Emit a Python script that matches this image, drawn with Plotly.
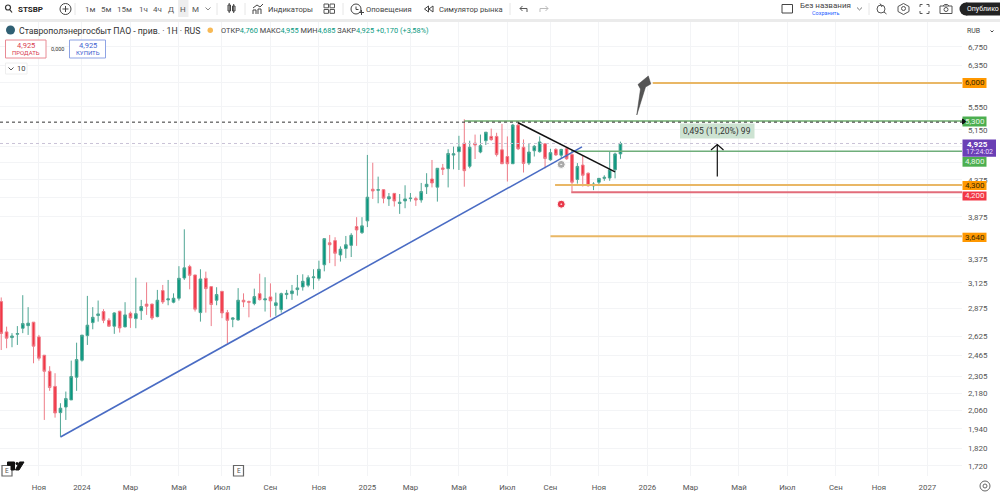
import numpy as np
import pandas as pd
import plotly.graph_objects as go

# недельные свечи STSBP
dates = pd.date_range("2023-09-18", periods=116, freq="7D")

opens = [2.94, 2.663, 2.614, 2.643, 2.695, 2.718, 2.749, 2.62, 2.468, 2.342, 2.229, 2.046, 2.084, 2.133, 2.297, 2.428,
         2.631, 2.745, 2.809, 2.846, 2.766, 2.713, 2.849, 2.707, 2.83, 2.781, 2.854, 2.916, 2.916, 2.799, 3.047, 2.956,
         2.934, 2.972, 3.175, 3.296, 3.207, 2.836, 3.172, 3.087, 2.953, 3.04, 2.836, 2.775, 2.769, 2.953, 2.94, 2.921,
         3.017, 2.956, 2.985, 2.902, 2.864, 3.008, 3.017, 3.057, 3.084, 3.101, 3.178, 3.172, 3.315, 3.562, 3.587, 3.423,
         3.495, 3.532, 3.755, 3.682, 3.826, 4.242, 4.228, 4.236, 4.11, 4.185, 4.049, 4.083, 4.114, 4.114, 4.096, 4.277,
         4.386, 4.271, 4.547, 4.537, 4.742, 4.795, 4.93, 4.572, 4.93, 4.79, 4.97, 5.04, 5.04, 4.825, 4.72, 4.61,
         5.23, 4.865, 4.62, 4.81, 4.795, 4.92, 4.67, 4.83, 4.74, 4.84, 4.75, 4.38, 4.59, 4.47, 4.29, 4.34,
         4.395, 4.40, 4.52, 4.76]
highs = [2.98, 2.709, 2.652, 2.714, 3.002, 2.887, 2.749, 2.637, 2.468, 2.381, 2.327, 2.11, 2.192, 2.425, 2.571, 2.635,
         2.995, 2.887, 2.95, 2.868, 2.785, 2.839, 2.852, 2.934, 2.846, 3.178, 2.956, 3.13, 2.92, 3.054, 3.104, 3.155,
         3.02, 3.30, 3.722, 3.315, 3.207, 3.267, 3.242, 3.087, 3.081, 3.04, 2.861, 2.793, 3.072, 3.02, 2.95, 3.067,
         3.22, 3.183, 3.12, 3.027, 3.027, 3.054, 3.104, 3.207, 3.214, 3.203, 3.267, 3.36, 3.61, 3.654, 3.627, 3.52,
         3.642, 3.675, 3.872, 3.872, 4.744, 4.625, 4.42, 4.242, 4.19, 4.19, 4.176, 4.297, 4.19, 4.14, 4.33, 4.47,
         4.667, 4.542, 4.607, 4.833, 4.875, 5.05, 5.33, 4.97, 5.07, 5.07, 5.11, 5.17, 5.10, 5.25, 5.04, 5.25,
         5.27, 4.99, 4.92, 4.90, 5.04, 4.93, 4.84, 4.85, 4.84, 4.85, 4.77, 4.62, 4.73, 4.48, 4.34, 4.40,
         4.44, 4.795, 4.78, 4.955]
lows = [2.51, 2.525, 2.533, 2.552, 2.652, 2.637, 2.404, 2.425, 1.998, 2.197, 2.013, 1.892, 1.998, 2.133, 2.197, 2.417,
        2.552, 2.686, 2.754, 2.74, 2.709, 2.646, 2.657, 2.704, 2.698, 2.695, 2.769, 2.815, 2.769, 2.793, 2.918, 2.905,
        2.924, 2.95, 3.155, 3.06, 2.846, 2.754, 2.836, 2.714, 2.905, 2.785, 2.566, 2.704, 2.763, 2.887, 2.793, 2.905,
        2.95, 2.846, 2.793, 2.806, 2.836, 2.963, 2.956, 2.998, 3.047, 3.081, 3.06, 3.148, 3.245, 3.333, 3.30, 3.35,
        3.387, 3.40, 3.526, 3.666, 3.749, 4.11, 4.052, 4.052, 4.017, 4.009, 3.914, 3.987, 4.074, 4.017, 4.06, 4.176,
        4.267, 4.074, 4.443, 4.267, 4.527, 4.517, 4.277, 4.542, 4.682, 4.77, 4.90, 4.97, 4.72, 4.607, 4.35, 4.61,
        4.82, 4.48, 4.59, 4.72, 4.78, 4.54, 4.655, 4.73, 4.685, 4.67, 4.21, 4.32, 4.28, 4.28, 4.23, 4.29,
        4.36, 4.36, 4.395, 4.685]
closes = [2.65, 2.609, 2.628, 2.648, 2.736, 2.74, 2.542, 2.444, 2.342, 2.221, 2.044, 2.076, 2.142, 2.302, 2.433, 2.635,
          2.722, 2.793, 2.824, 2.766, 2.713, 2.833, 2.698, 2.815, 2.787, 2.826, 2.893, 2.896, 2.787, 2.953, 2.937, 2.966,
          2.972, 3.172, 3.282, 3.203, 2.868, 3.165, 3.067, 2.912, 3.008, 2.833, 2.766, 2.787, 2.953, 2.937, 2.934, 2.988,
          2.959, 2.966, 2.947, 2.928, 3.017, 3.02, 3.044, 3.074, 3.141, 3.178, 3.186, 3.267, 3.61, 3.539, 3.442, 3.488,
          3.539, 3.65, 3.714, 3.764, 4.133, 4.218, 4.236, 4.12, 4.14, 4.083, 4.066, 4.11, 4.12, 4.096, 4.21, 4.311,
          4.33, 4.542, 4.527, 4.767, 4.762, 4.87, 4.507, 4.865, 4.90, 4.89, 5.11, 4.987, 4.75, 4.61, 4.61, 5.23,
          4.84, 4.615, 4.79, 4.88, 4.95, 4.69, 4.78, 4.745, 4.83, 4.685, 4.34, 4.57, 4.44, 4.29, 4.315, 4.395,
          4.41, 4.52, 4.76, 4.925]

# оси (часть отметок закрыта плашками цен, у них нет подписи)
price_ticks = [6.75, 6.35, 6.0, 5.55, 5.15, 4.875, 4.625, 4.375, 4.125, 3.875, 3.375, 3.125, 2.875, 2.625, 2.465,
               2.305, 2.18, 2.06, 1.94, 1.82, 1.72]
price_labels = ["6,750", "6,350", "", "5,550", "5,150", "", "", "4,375", "", "3,875", "3,375",
                "3,125", "2,875", "2,625", "2,465", "2,305", "2,180", "2,060", "1,940", "1,820", "1,720"]
time_ticks = ["2023-11-06", "2024-01-01", "2024-03-04", "2024-05-06", "2024-07-01", "2024-09-02", "2024-11-04",
              "2025-01-06", "2025-03-03", "2025-05-05", "2025-07-07", "2025-09-01", "2025-11-03", "2026-01-05",
              "2026-03-02", "2026-05-04", "2026-07-06", "2026-09-07", "2026-11-02", "2027-01-04"]
time_labels = ["Ноя", "2024", "Мар", "Май", "Июл", "Сен", "Ноя", "2025", "Мар", "Май", "Июл", "Сен", "Ноя", "2026",
               "Мар", "Май", "Июл", "Сен", "Ноя", "2027"]

x_start = "2023-09-16 10:00"
x_end = "2027-02-18"

# горизонтальные уровни
level_starts = ["2026-01-12", "2025-09-07", "2025-09-01"]
level_prices = [6.0, 4.3, 3.64]
resistance = 5.3
green_level = 4.8
red_level = 4.2
last_price = 4.925
prior_high = 5.28

blue_dates = ["2023-12-04", "2025-10-12"]
blue_prices = [1.89, 4.87]
black_dates = ["2025-07-21", "2025-11-24"]
black_prices = [5.27, 4.49]

GREEN = "#089981"
RED = "#f23645"
ORANGE = "#e9b765"
FONT = "Roboto"

fig = go.Figure()


def level(x0, price, color, width=1.5, dash="solid"):
    fig.add_trace(go.Scatter(x=[x0, x_end], y=[price, price], mode="lines", hoverinfo="skip",
                             line=dict(color=color, width=width, dash=dash)))


level(x_start, last_price, "#c9c2d6", 1, "dot")
fig.add_trace(go.Candlestick(x=dates, open=opens, high=highs, low=lows, close=closes,
                             increasing=dict(line=dict(color="#4fa694", width=1), fillcolor=GREEN),
                             decreasing=dict(line=dict(color="#ee7c88", width=1), fillcolor=RED)))
level("2025-05-12", resistance, "#6fae6f", 1.5)
level(x_start, prior_high, "#333333", 1, "3px,3px")
level("2025-09-28", green_level, "#6fae7a", 1.5)
level("2025-09-28", red_level, "#e26c7a", 2)
for start, price in zip(level_starts, level_prices):
    level(start, price, ORANGE, 2)

fig.add_trace(go.Scatter(x=blue_dates, y=blue_prices, mode="lines", hoverinfo="skip",
                         line=dict(color="#4a6cc4", width=1.6)))
fig.add_trace(go.Scatter(x=black_dates, y=black_prices, mode="lines", hoverinfo="skip",
                         line=dict(color="#111111", width=1.5)))
# значки событий на графике
fig.add_trace(go.Scatter(x=["2025-09-15"], y=[4.6], mode="markers", hoverinfo="skip",
                         marker=dict(size=8, color="#a9a9a9", symbol="circle-dot", line=dict(color="white", width=1))))
fig.add_trace(go.Scatter(x=["2025-09-15"], y=[4.04], mode="markers", hoverinfo="skip",
                         marker=dict(size=8, color="#e8384a", symbol="circle-dot", line=dict(color="white", width=1))))

shapes = []
texts = []


def X(px):
    return px / 1000


def Y(py):
    return 1 - py / 494


def text(px, py, s, size=8.5, color="#333333", anchor="left", bold=False):
    texts.append(dict(x=X(px), y=Y(py), xref="paper", yref="paper", text="<b>%s</b>" % s if bold else s,
                      showarrow=False, xanchor=anchor, yanchor="middle", borderpad=0,
                      font=dict(family=FONT, size=size, color=color)))


def box(x0, y0, x1, y1, fill="rgba(0,0,0,0)", line=None, width=1, kind="rect"):
    shapes.append(dict(type=kind, xref="paper", yref="paper", x0=X(x0), x1=X(x1), y0=Y(y0), y1=Y(y1),
                       fillcolor=fill, line=dict(color=line or fill, width=width if line else 0), layer="above"))


def path(points, color="#444444", width=1, fill=None, close=False):
    d = "M" + " L".join("%.4f,%.4f" % (X(a), Y(b)) for a, b in points) + (" Z" if close else "")
    shapes.append(dict(type="path", path=d, xref="paper", yref="paper", layer="above",
                       fillcolor=fill or "rgba(0,0,0,0)", line=dict(color=color, width=width)))


# верхняя панель
box(0, 0, 1000, 19, "white")
box(0, 19, 1000, 22, "#ebebeb")
box(178, 0, 188.5, 17, "#eeeeee")
for sx in [75, 217, 245, 343, 510, 869]:
    path([(sx, 3), (sx, 15)], "#e6e6e6")

box(5.5, 5, 10.5, 10, line="#333333", width=1.2, kind="circle")
path([(10, 10), (12, 12.5)], "#333333", 1.2)
text(17, 9, "STSBP", 8, "#222222", bold=True)
box(60, 3.5, 71, 14.5, line="#444444", kind="circle")
path([(65.5, 6), (65.5, 12)])
path([(62.5, 9), (68.5, 9)])
for cx, label in zip([90, 106, 124, 143, 157, 171, 183, 195],
                     ["1м", "5м", "15м", "1ч", "4ч", "Д", "Н", "М"]):
    text(cx, 9, label, 8, "#555555", "center")
path([(205.5, 7.5), (208, 10), (210.5, 7.5)], "#888888")
box(228, 5, 230.5, 11, line="#444444")
path([(229.2, 3), (229.2, 13)])
box(232.5, 6, 235, 11, line="#444444")
path([(233.7, 4), (233.7, 13)])
path([(253, 14), (253, 10), (256, 10), (256, 14)])
path([(253, 8), (257, 5), (260, 7), (263, 4)])
path([(258, 14), (258, 9), (261, 9), (261, 14)])
text(267, 9, "Индикаторы", 7.6, "#444444")
for gx, gy in [(324, 4), (330, 4), (324, 9.5), (330, 9.5)]:
    box(gx, gy, gx + 4.5, gy + 3.8, line="#555555")
box(351, 4, 361, 14, line="#444444", kind="circle")
path([(356, 6.5), (356, 9.5), (358.5, 9.5)])
path([(359, 12.5), (364, 12.5)])
path([(361.5, 10), (361.5, 15)])
text(365, 9, "Оповещения", 7.6, "#444444")
path([(428.5, 6), (424.5, 9), (428.5, 12)], close=True)
path([(433, 6), (429, 9), (433, 12)], close=True)
text(438, 9, "Симулятор рынка", 7.6, "#444444")
path([(527, 12), (527, 8.5), (520, 8.5)], "#555555")
path([(522.5, 6), (520, 8.5), (522.5, 11)], "#555555")
path([(540, 12), (540, 8.5), (548, 8.5)], "#bbbbbb")
path([(545.5, 6), (548, 8.5), (545.5, 11)], "#bbbbbb")
box(782, 4.5, 792.5, 13, line="#444444")
text(825, 5.5, "Без названия", 8, "#444444", "center")
text(825.5, 13, "Сохранить", 5.5, "#2962ff", "center")
path([(857, 7.5), (859.5, 10), (862, 7.5)], "#777777")
box(877, 5, 885, 13, line="#555555", kind="circle")
path([(884, 12), (886.5, 14)], "#555555")
path([(880, 3.5), (882, 7)], "#555555")
path([(903.5, 3.5), (909, 6.5), (909, 11.5), (903.5, 14.5), (898, 11.5), (898, 6.5)], "#555555", close=True)
box(901.5, 6.5, 905.5, 10.5, line="#555555", kind="circle")
for ax, ay, bx, by, cx, cy in [(920, 7, 920, 4.5, 922.5, 4.5), (926.5, 4.5, 929, 4.5, 929, 7),
                               (920, 11, 920, 13.5, 922.5, 13.5), (926.5, 13.5, 929, 13.5, 929, 11)]:
    path([(ax, ay), (bx, by), (cx, cy)], "#555555")
box(940, 6, 952, 13.5, line="#555555")
box(944, 7.5, 948, 11.5, line="#555555", kind="circle")
path([(943, 6), (944.5, 4.5), (947.5, 4.5), (949, 6)], "#555555")
box(959.5, 2.5, 972.5, 15.5, "#222222", kind="circle")
box(966, 2.5, 1000, 15.5, "#222222")
text(966, 9, "Опублико", 7, "white")

# строка инструмента
box(6, 25.5, 15, 34.5, "#2f5f73", kind="circle")
text(18, 31, "Ставрополэнергосбыт ПАО - прив. · 1Н · RUS", 8.7, "#333333")
box(207.5, 27.5, 213, 33, "#f7b955", kind="circle")
text(220, 31, "ОТКР<span style='color:#089981'>4,760</span> МАКС<span style='color:#089981'>4,955</span> "
     "МИН<span style='color:#089981'>4,685</span> ЗАКР<span style='color:#089981'>4,925</span> "
     "<span style='color:#089981'>+0,170 (+3,58%)</span>", 7.4, "#444444")
box(5.5, 40, 46, 58, "white", "#e88a94")
text(26, 45, "4,925", 7.5, "#d9404f", "center")
text(26, 53, "ПРОДАТЬ", 6, "#d9404f", "center")
text(57.5, 49, "0,000", 5.5, "#333333", "center")
box(69.5, 40, 105.5, 58, "white", "#8ea3e4")
text(87.5, 45, "4,925", 7.5, "#3f63d0", "center")
text(87.5, 53, "КУПИТЬ", 6, "#3f63d0", "center")
box(5.5, 63, 27, 74, "white", "#eeeeee")
path([(8.5, 67.5), (11, 70), (13.5, 67.5)], "#555555")
text(20.5, 68.5, "10", 7.5, "#444444", "center")

# RUB и шестеренка
box(965, 25, 997, 38, "white")
text(966, 31, "RUB", 7, "#444444")
path([(990.5, 30.5), (992, 32), (993.5, 30.5)], "#444444")
box(980, 481, 990, 491, line="#666666", kind="circle")
box(983, 484, 987, 488, line="#666666", kind="circle")

# плашки цен
for y0, y1, fill, label, color in [(78, 88, "#ff9800", "6,000", "#3a2a00"),
                                   (116.5, 126.5, "#4caf50", "5,300", "#e8f5e9"),
                                   (157, 166.7, "#4caf50", "4,800", "#e8f5e9"),
                                   (181, 190, "#ff9800", "4,300", "#3a2a00"),
                                   (191.5, 200.5, "#f23645", "4,200", "#ffe8ea"),
                                   (232.7, 242, "#ff9800", "3,640", "#3a2a00")]:
    box(962.5, y0, 986.5, y1, fill)
    text(974.5, (y0 + y1) / 2, label, 8, color, "center")
box(962.5, 139.5, 996, 156.7, "#6a3fb5")
text(966, 144, "4,925", 8, "white", bold=True)
text(979, 152, "17:24:02", 7, "#eadcff", "center")
path([(962.5, 119), (966, 121.5), (962.5, 124)], "#111111", fill="#111111", close=True)

# подпись измерения
box(680, 123.5, 754.5, 138.5, "#cde3d2")
text(717, 131, "0,495 (11,20%) 99", 8.5, "#333333", "center")

# стрелка вверх, серая стрелка
path([(717.3, 176.5), (717.3, 144.5)], "#111111", 1.2)
path([(711, 150), (717.3, 144.5), (723.5, 150)], "#111111", 1.2)
path([(636.8, 115), (640.5, 89), (638, 84.5), (648.3, 76), (650.8, 84), (645.5, 87)], "#3f3f3f", 0.5,
     fill="#555555", close=True)

# значки Е и логотип
for ex in [2, 233.5]:
    box(ex, 465.5, ex + 10, 476, "white", "#666666", 1.2)
    text(ex + 5, 470.8, "E", 6.5, "#555555", "center")
path([(7.5, 462), (14.5, 462), (14.5, 470), (11, 470), (11, 465.3), (7.5, 465.3)], "#111111", fill="#111111", close=True)
box(15.5, 462, 18.5, 465, "#111111", kind="circle")
path([(19.5, 462), (24, 462), (19, 470), (15.5, 470)], "#111111", fill="#111111", close=True)

fig.update_layout(
    width=1000, height=494, margin=dict(l=0, r=0, t=0, b=0),
    paper_bgcolor="white", plot_bgcolor="white",
    showlegend=False, boxgap=0.3, shapes=shapes, annotations=texts,
    font=dict(family=FONT, size=9, color="#555555"),
    xaxis=dict(domain=[0, 0.962], type="date", range=[x_start, x_end], rangeslider=dict(visible=False),
               tickvals=time_ticks, ticktext=time_labels, tickfont=dict(size=7.8, color="#555555"),
               showgrid=True, gridcolor="#f3f4f6", gridwidth=1, zeroline=False, showline=False, ticks="",
               ticklabelstandoff=5),
    yaxis=dict(domain=[18 / 494, 472 / 494], type="log", side="right",
               range=[np.log10(1.664), np.log10(7.321)],
               tickvals=price_ticks, ticktext=price_labels, tickfont=dict(size=8, color="#555555"),
               showgrid=True, gridcolor="#f3f4f6", gridwidth=1, zeroline=False, showline=False, ticks="",
               ticklabelstandoff=5),
)

fig.write_html("out.html", config=dict(displayModeBar=False), post_script="document.body.style.margin='0';")
